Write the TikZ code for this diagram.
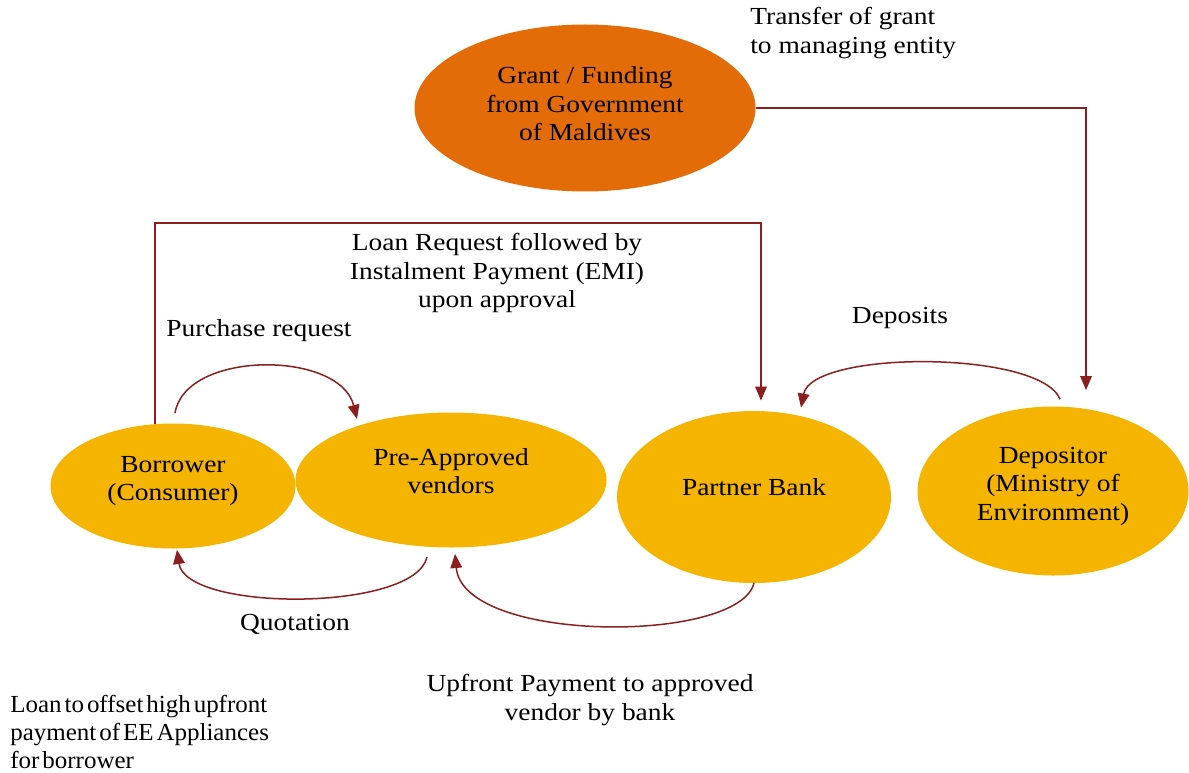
\documentclass[tikz,border=0pt]{standalone}
\usepackage{fontspec}
\setmainfont[FakeStretch=1.12]{Liberation Serif}
\newfontfamily\tightserif[FakeStretch=1.02]{Liberation Serif}
\newcommand\offsetfont{\fontsize{14.7pt}{16.6pt}\tightserif\spaceskip=0.12em plus 0.05em\relax}
\usetikzlibrary{shapes.geometric,arrows.meta,calc}
\definecolor{grantorange}{HTML}{E36C09}
\definecolor{nodegold}{HTML}{F4B400}
\definecolor{flowred}{HTML}{8B1F1F}
\begin{document}
\begin{tikzpicture}[x=0.6pt,y=-0.6pt,
  every node/.style={font=\fontsize{14.7pt}{17.1pt}\selectfont, text=black},
  blob/.style={ellipse, fill=nodegold, inner sep=0pt},
  inlabel/.style={align=center, inner sep=0pt},
  flow/.style={draw=flowred, line width=0.9pt, -{Triangle[length=8.5pt,width=7pt]}},
  lbl/.style={align=center, inner sep=0pt},
  lbll/.style={align=left, inner sep=0pt, anchor=west},
]
\useasboundingbox (0,0) rectangle (1189,773);

% nodes
\node[ellipse, fill=grantorange, inner sep=0pt, minimum width=204.6pt, minimum height=100.2pt,
      label={[inlabel, yshift=2.6pt]center:Grant / Funding\\from Government\\of Maldives}] (grant) at (585,108) {};
\node[blob, minimum width=147pt, minimum height=75pt,
      label={[inlabel, yshift=3pt]center:Borrower\\(Consumer)}] (bor) at (173,486) {};
\node[blob, minimum width=186.6pt, minimum height=81pt,
      label={[inlabel, yshift=5.4pt]center:Pre-Approved\\vendors}] (ven) at (451,480) {};
\node[blob, minimum width=164.4pt, minimum height=103.2pt,
      label={[inlabel, yshift=6pt]center:Partner Bank}] (bank) at (754,497) {};
\node[blob, minimum width=162.6pt, minimum height=101.4pt,
      label={[inlabel, yshift=3pt]center:Depositor\\(Ministry of\\Environment)}] (dep) at (1053,491) {};

% text labels
\node[lbll] (ttransfer) at (750,33) {Transfer of grant\\to managing entity};
\node[lbl] (tloan) at (497,273) {Loan Request followed by\\Instalment Payment (EMI)\\upon approval};
\node[lbl] (tpurchase) at (259,331) {Purchase request};
\node[lbl] (tdeposits) at (900,318) {Deposits};
\node[lbl] (tquote) at (295,624) {Quotation};
\node[lbl] (tupfront) at (590,700) {Upfront Payment to approved\\vendor by bank};
\node[lbll, font=\offsetfont] (toffset) at (10,732)
  {Loan to offset high upfront\\payment of EE Appliances\\for borrower};

% connector end points
\coordinate (transTip) at ($(dep.north)+(33,-16)$);
\coordinate (loanStart) at ($(bor.north)+(-18,0.5)$);
\coordinate (loanTurn) at (761,223);
\coordinate (loanTip) at ($(bank.north)+(7,-10)$);
\coordinate (purS) at ($(bor.north)+(2,-10)$);
\coordinate (purT) at ($(ven.center)+(-94,-61)$);
\coordinate (quoS) at ($(ven.center)+(-24,77)$);
\coordinate (quoT) at ($(bor.south)+(4,1)$);
\coordinate (upS) at ($(bank.south)+(0,-0.5)$);
\coordinate (upT) at ($(ven.south)+(4,6)$);
\coordinate (depS) at ($(dep.north)+(7,-7)$);
\coordinate (depT) at ($(bank.north)+(47,-3)$);

% connectors
\draw[flow] (grant.east) -| (transTip);
\draw[flow] (loanStart) |- (loanTurn) -- (loanTip);
\draw[flow] (purS) .. controls (185,350) and (340,350) .. (purT);
\draw[flow] (quoS) .. controls (415,612) and (186,612) .. (quoT);
\draw[flow] (upS) .. controls (740,644) and (463,644) .. (upT);
\draw[flow] (depS) .. controls (1040,350) and (812,350) .. (depT);
\end{tikzpicture}
\end{document}
